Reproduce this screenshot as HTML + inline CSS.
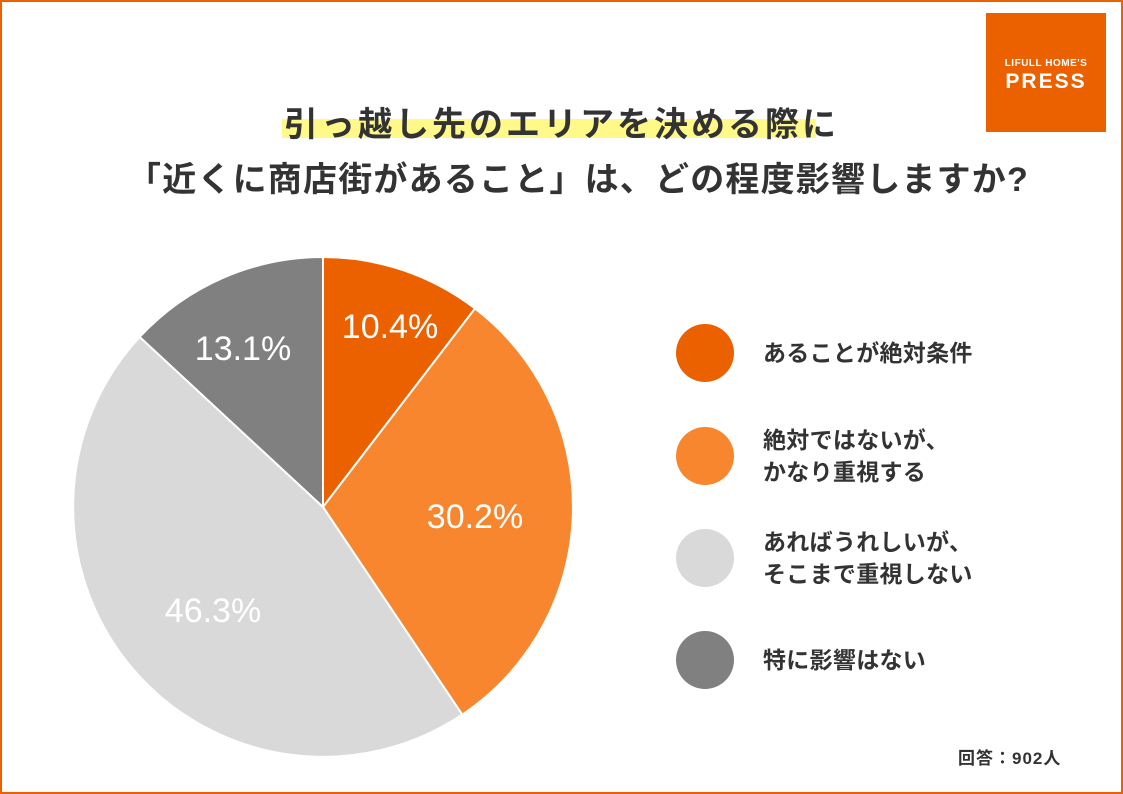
<!DOCTYPE html>
<html><head><meta charset="utf-8"><style>
body{margin:0;width:1123px;height:794px;overflow:hidden;background:#fff;font-family:"Liberation Sans","Noto Sans CJK JP",sans-serif;}
.frame{position:absolute;left:0;top:0;width:1119px;height:790px;border:2px solid #EB6100;}
.t{position:absolute;color:#333;font-weight:bold;font-size:34px;white-space:nowrap;}
.lg{position:absolute;left:763px;font-size:23px;color:#333;font-weight:bold;line-height:32px;letter-spacing:0.3px;}
</style></head><body>
<div class="frame"></div>
<div style="position:absolute;left:986px;top:13px;width:120px;height:119px;background:#EB6100;color:#fff;text-align:center;font-weight:bold;">
<div style="font-size:10px;margin-top:45px;letter-spacing:0.5px">LIFULL HOME'S</div>
<div style="font-size:21px;letter-spacing:2px;margin-top:1px">PRESS</div></div>
<div style="position:absolute;left:282px;top:119px;width:534px;height:19px;background:#FFF98A"></div>
<div class="t" style="left:284px;top:97px;letter-spacing:3px">引っ越し先のエリアを決める際に</div>
<div class="t" style="left:127px;top:152px;letter-spacing:1.2px">「近くに商店街があること」は、どの程度影響しますか?</div>
<svg width="1123" height="794" style="position:absolute;left:0;top:0">
<g stroke="#fff" stroke-width="2">
<path d="M323,507 L323,257 A250,250 0 0 1 475,308.5 Z" fill="#EB6100"/>
<path d="M323,507 L475,308.5 A250,250 0 0 1 462.2,714.6 Z" fill="#F7862F"/>
<path d="M323,507 L462.2,714.6 A250,250 0 0 1 139.7,337 Z" fill="#D9D9D9"/>
<path d="M323,507 L139.7,337 A250,250 0 0 1 323,257 Z" fill="#808080"/>
</g>
<g fill="#fff" font-size="34" font-family="Liberation Sans, sans-serif" text-anchor="middle">
<text x="390" y="338">10.4%</text>
<text x="475" y="528">30.2%</text>
<text x="213" y="622">46.3%</text>
<text x="243" y="360">13.1%</text>
</g>
<circle cx="705" cy="353" r="29" fill="#EB6100"/>
<circle cx="705" cy="456" r="29" fill="#F7862F"/>
<circle cx="705" cy="558" r="29" fill="#D9D9D9"/>
<circle cx="705" cy="660" r="29" fill="#808080"/>
</svg>
<div class="lg" style="top:337px">あることが絶対条件</div>
<div class="lg" style="top:424px">絶対ではないが、<br>かなり重視する</div>
<div class="lg" style="top:526px">あればうれしいが、<br>そこまで重視しない</div>
<div class="lg" style="top:644px">特に影響はない</div>
<div style="position:absolute;left:958px;top:744px;font-size:17px;color:#333;font-weight:bold;letter-spacing:1px">回答：902人</div>
</body></html>
